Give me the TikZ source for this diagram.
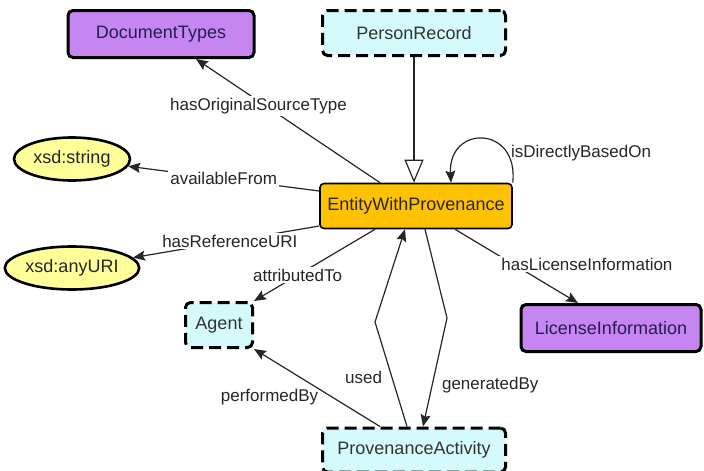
\documentclass[tikz,border=0pt]{standalone}
\usepackage{fontspec}
\setmainfont{Liberation Sans}
\usetikzlibrary{arrows.meta,shapes.geometric}

\definecolor{classpurple}{RGB}{198,134,242}
\definecolor{recordcyan}{RGB}{212,250,252}
\definecolor{entityorange}{RGB}{255,194,0}
\definecolor{literalyellow}{RGB}{255,255,153}
\definecolor{navytext}{RGB}{35,30,80}

\begin{document}
\begin{tikzpicture}[x=1pt,y=-1pt,
        font=\fontsize{17}{20}\selectfont,
        classbox/.style={draw, rounded corners=5pt, line width=3pt, fill=classpurple,
            text=navytext, font=\fontsize{18}{21}\selectfont, minimum height=47pt},
        recordbox/.style={draw, rounded corners=5pt, line width=3pt, fill=recordcyan,
            dash pattern=on 12pt off 6pt, text=black!80, font=\fontsize{18}{21}\selectfont,
            minimum height=45pt},
        entitybox/.style={draw, rounded corners=4pt, line width=1.6pt, fill=entityorange,
            text=black!85, font=\fontsize{18}{21}\selectfont, minimum width=192pt, minimum height=45pt},
        literal/.style={draw, ellipse, line width=2.6pt, fill=literalyellow, inner sep=1pt,
            text=black!85, font=\fontsize{18}{21}\selectfont, minimum width=116pt, minimum height=43pt},
        prop/.style={draw=black!85, line width=1.2pt, -{Stealth[length=12pt,width=10pt,inset=2pt]}},
        lbl/.style={fill=white, inner sep=2pt, text=black!85}]
        \useasboundingbox (0,0) rectangle (704,471);

        % classes
        \node[classbox, minimum width=186pt] (doc) at (161,34) {DocumentTypes};
        \node[recordbox, minimum width=183pt] (person) at (414,33) {PersonRecord};
        \node[entitybox] (ewp) at (416,206) {EntityWithProvenance};
        \node[literal] (str) at (72,159) {xsd:string};
        \node[literal] (uri) at (72,268) {xsd:anyURI};
        \node[recordbox, minimum width=67pt, inner sep=2pt] (agent) at (219,325) {Agent};
        \node[classbox, minimum width=180pt] (lic) at (611,328) {LicenseInformation};
        \node[recordbox, minimum width=183pt, minimum height=44pt] (prov) at (414,450) {ProvenanceActivity};
        \coordinate (usedbend) at (375,322);
        \coordinate (genbend) at (447,318);

        % subclass
        \draw[line width=1.2pt, draw=black!85, -{Triangle[open,length=23pt,width=19pt]}]
            (person.south) -- (person.south |- ewp.north);

        % properties
        \draw[prop] ([xshift=-36pt]ewp.north) -- ([xshift=35pt]doc.south)
            node[lbl, pos=0.66, yshift=-5pt] {hasOriginalSourceType};
        \draw[prop] (ewp.north east) .. controls +(6,-58) and +(-3,-58) .. ([xshift=35pt]ewp.north)
            node[pos=0.22, anchor=west, text=black!85] {isDirectlyBasedOn};
        \draw[prop] ([yshift=15pt]ewp.west) -- (str)
            node[lbl, pos=0.5] {availableFrom};
        \draw[prop] ([yshift=-20pt]ewp.west) -- (uri)
            node[lbl, pos=0.48] {hasReferenceURI};
        \draw[prop] ([xshift=-41pt]ewp.south) -- (agent.north east)
            node[lbl, pos=0.64] {attributedTo};
        \draw[prop] ([xshift=39pt]ewp.south) -- ([xshift=-33pt]lic.north)
            node[lbl, pos=0.47, anchor=west, xshift=-14pt] {hasLicenseInformation};
        \draw[prop] ([xshift=-7pt]prov.north) -- (usedbend)
            node[pos=0.47, left, xshift=-6pt, text=black!85] {used}
            -- ([xshift=-11pt]ewp.south);
        \draw[prop] ([xshift=9pt]ewp.south) -- (genbend) -- ([xshift=9pt]prov.north)
            node[pos=0.62, right, xshift=6pt, text=black!85] {generatedBy};
        \draw[prop] ([xshift=-34pt]prov.north) -- (agent.south east)
            node[pos=0.38, left, xshift=-10pt, text=black!85] {performedBy};
\end{tikzpicture}
\end{document}
